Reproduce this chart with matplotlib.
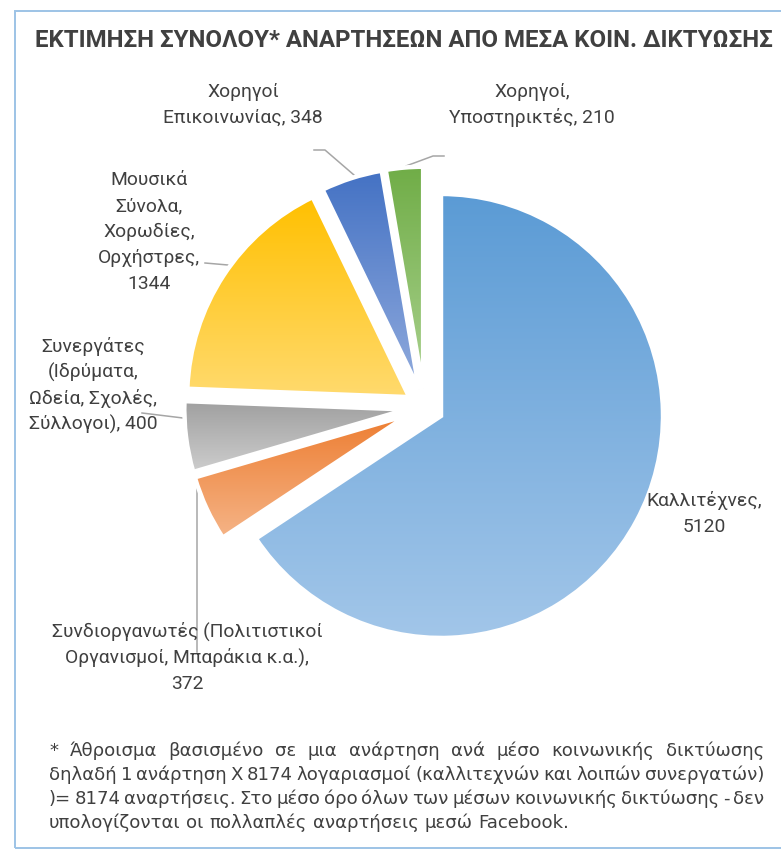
import numpy as np
import matplotlib
matplotlib.use("Agg")
import matplotlib.pyplot as plt
from matplotlib.colors import LinearSegmentedColormap
from matplotlib.patches import Rectangle

W, H = 781, 851

title = "ΕΚΤΙΜΗΣΗ ΣΥΝΟΛΟΥ* ΑΝΑΡΤΗΣΕΩΝ ΑΠΟ ΜΕΣΑ ΚΟΙΝ. ΔΙΚΤΥΩΣΗΣ"

categories = [
    "Καλλιτέχνες",
    "Συνδιοργανωτές (Πολιτιστικοί Οργανισμοί, Μπαράκια κ.α.)",
    "Συνεργάτες (Ιδρύματα, Ωδεία, Σχολές, Σύλλογοι)",
    "Μουσικά Σύνολα, Χορωδίες, Ορχήστρες",
    "Χορηγοί Επικοινωνίας",
    "Χορηγοί, Υποστηρικτές",
]
posts = [5120, 372, 400, 1344, 348, 210]

# how each label is broken over lines in the original
label_lines = [
    ["Καλλιτέχνες,", "{v}"],
    ["Συνδιοργανωτές (Πολιτιστικοί", "Οργανισμοί, Μπαράκια κ.α.),", "{v}"],
    ["Συνεργάτες", "(Ιδρύματα,", "Ωδεία, Σχολές,", "Σύλλογοι), {v}"],
    ["Μουσικά", "Σύνολα,", "Χορωδίες,", "Ορχήστρες,", "{v}"],
    ["Χορηγοί", "Επικοινωνίας, {v}"],
    ["Χορηγοί,", "Υποστηρικτές, {v}"],
]

footnote = [
    "* Άθροισμα βασισμένο σε μια ανάρτηση ανά μέσο κοινωνικής δικτύωσης",
    "δηλαδή 1 ανάρτηση Χ 8174 λογαριασμοί (καλλιτεχνών και λοιπών συνεργατών)",
    ")= 8174 αναρτήσεις. Στο μέσο όρο όλων των μέσων κοινωνικής δικτύωσης - δεν",
    "υπολογίζονται οι πολλαπλές αναρτήσεις μεσώ Facebook.",
]

# gradient (top, bottom) per slice, Office palette
grad_colors = [
    ("#5B9BD5", "#A2C6E9"),
    ("#ED7D31", "#F5B487"),
    ("#A0A0A0", "#CDCDCD"),
    ("#FFC000", "#FFDA6E"),
    ("#4472C4", "#91ABDD"),
    ("#70AD47", "#ABD290"),
]

# label anchors: centre x, first baseline (pixels from top)
label_pos = [(704, 506), (187, 637), (93, 352), (149, 185), (243, 97), (532, 97)]
line_step = 26
text_color = "#404040"
leader_color = "#A6A6A6"


def py(y):
    return H - y


fig = plt.figure(figsize=(W / 100, H / 100), dpi=100)
ax = fig.add_axes([0, 0, 1, 1])

wedges, _ = ax.pie(
    posts,
    startangle=90,
    counterclock=False,
    radius=222,
    center=(424.7, py(407.2)),
    explode=[18.5] * len(posts),
    wedgeprops=dict(facecolor="none", edgecolor="white", linewidth=3.2, zorder=2),
)

for w, (top, bottom) in zip(wedges, grad_colors):
    cx, cy = w.center
    th = np.radians(np.linspace(w.theta1, w.theta2, 300))
    xs = np.r_[cx, cx + w.r * np.cos(th)]
    ys = np.r_[cy, cy + w.r * np.sin(th)]
    cmap = LinearSegmentedColormap.from_list("g", [bottom, top])
    grad = np.linspace(1, 0, 256).reshape(-1, 1)
    im = ax.imshow(grad, cmap=cmap, vmin=0, vmax=1, origin="upper",
                   extent=(xs.min(), xs.max(), ys.min(), ys.max()),
                   aspect="auto", interpolation="bilinear", zorder=1)
    im.set_clip_path(w)

# data labels
for lines, v, (x, y0) in zip(label_lines, posts, label_pos):
    for i, line in enumerate(lines):
        ax.text(x, py(y0 + i * line_step), line.format(v=v), ha="center",
                va="baseline", fontsize=13.9, family="Roboto", color=text_color)

# leader lines
leaders = [
    [(314, 150), (325, 150), (354, 175)],
    [(406, 166), (433, 156), (444, 156)],
    [(205, 263), (228, 265)],
    [(142, 413), (183, 418)],
    [(197, 488), (197, 652)],
]
for pts in leaders:
    xs, ys = zip(*pts)
    ax.plot(xs, [py(y) for y in ys], color=leader_color, lw=1.1, zorder=0)

renderer = fig.canvas.get_renderer()

# title, sized to the original width
t = ax.text(35, py(47), title, ha="left", va="baseline", fontsize=15,
            fontweight="bold", family="Roboto", color=text_color)
tw = t.get_window_extent(renderer).width
t.set_fontsize(15 * 740 / tw)

# footnote, justified like the original
fn_size = 12
fn_left, fn_right = 49, 764
fn_base = [756, 780, 804, 828]
probe = ax.text(0, 0, footnote[-1], fontsize=fn_size, family="DejaVu Sans")
fn_size = fn_size * 518 / probe.get_window_extent(renderer).width
probe.remove()
for k, (line, yb) in enumerate(zip(footnote, fn_base)):
    words = line.split(" ")
    texts = [ax.text(0, py(yb), wd, fontsize=fn_size, family="DejaVu Sans",
                     color=text_color, ha="left", va="baseline") for wd in words]
    widths = [tx.get_window_extent(renderer).width for tx in texts]
    if k < len(footnote) - 1:
        gap = (fn_right - fn_left - sum(widths)) / (len(words) - 1)
    else:
        sp = ax.text(0, 0, "a a", fontsize=fn_size, family="DejaVu Sans")
        sa = ax.text(0, 0, "aa", fontsize=fn_size, family="DejaVu Sans")
        gap = sp.get_window_extent(renderer).width - sa.get_window_extent(renderer).width
        sp.remove()
        sa.remove()
    x = fn_left
    for tx, wdt in zip(texts, widths):
        tx.set_x(x)
        x += wdt + gap

# chart border
ax.add_patch(Rectangle((15, py(848)), 800, 837, fill=False,
                       edgecolor="#9DC3E6", lw=1.4, clip_on=False, zorder=5))

ax.set_xlim(0, W)
ax.set_ylim(0, H)
ax.axis("off")

fig.savefig("out.png", dpi=100)
